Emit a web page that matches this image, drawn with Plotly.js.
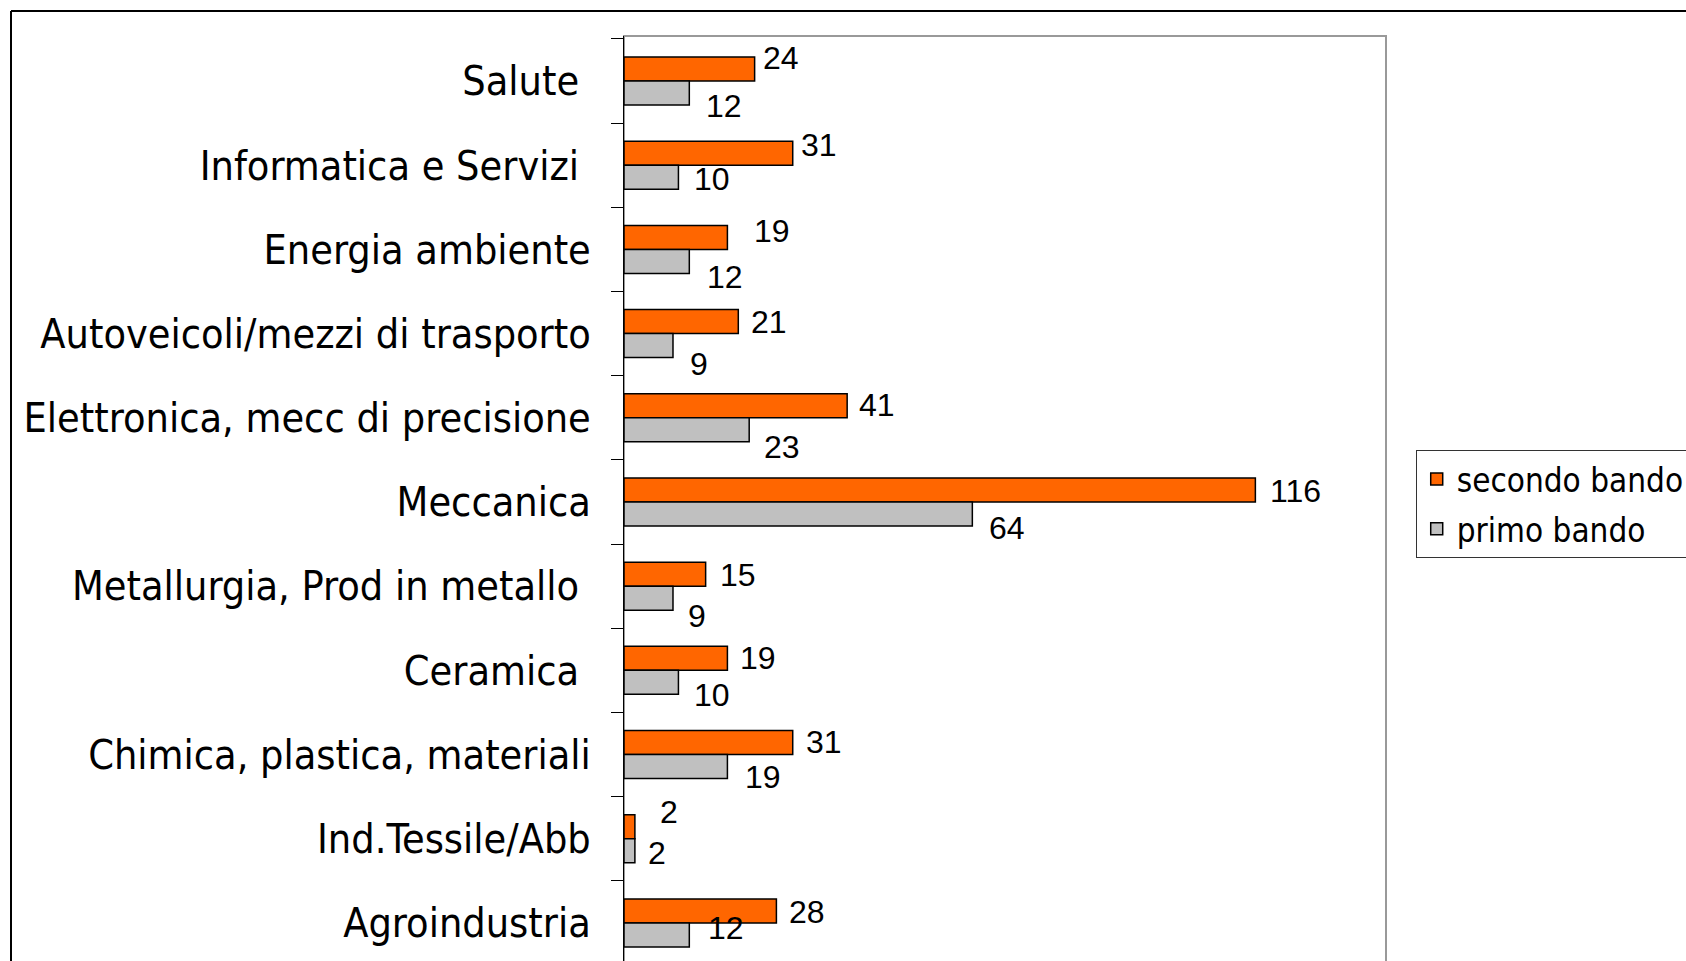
<!DOCTYPE html>
<html>
<head>
<meta charset="utf-8">
<script src="https://cdn.plot.ly/plotly-3.0.1.min.js"></script>
<style>
html,body{margin:0;padding:0;background:#fff;overflow:hidden;}
#chart{width:1686px;height:970px;}
</style>
</head>
<body>
<div id="chart"></div>
<script>
// ---- data ----
var categories = [
  "Salute\u00a0",
  "Informatica e Servizi\u00a0",
  "Energia ambiente",
  "Autoveicoli/mezzi di trasporto",
  "Elettronica, mecc di precisione",
  "Meccanica",
  "Metallurgia, Prod in metallo\u00a0",
  "Ceramica\u00a0",
  "Chimica, plastica, materiali",
  "Ind.Tessile/Abb",
  "Agroindustria"
];
var secondoBando = [24, 31, 19, 21, 41, 116, 15, 19, 31, 2, 28];
var primoBando   = [12, 10, 12, 9, 23, 64, 9, 10, 19, 2, 12];
var seriesNames  = ["secondo bando", "primo bando"];

// ---- label placement (pixels, layout only) ----
var secondoLabelDx = [6, 6, 25, 11, 10, 13, 12, 11, 11, 23, 11];
var secondoLabelDy = [23, 20, 18, 12, 13, 11, 11, 12, 13, 27, 11];
var primoLabelDx   = [15, 14, 16, 15, 13, 15, 13, 14, 16, 11, 17];
var primoLabelDy   = [25, 14, 28, 30, 29, 26, 30, 25, 22, 14, 5];

var catFont = "DejaVu Sans Condensed, Noto Sans, DejaVu Sans, sans-serif";
var numFont = "Liberation Sans, Arial, sans-serif";

var traces = [
  {type:"bar", orientation:"h", name:seriesNames[0], legendgroup:"a", y:categories, x:secondoBando,
   marker:{color:"#FF6600", line:{color:"#000000", width:1.5}}, hoverinfo:"x"},
  {type:"bar", orientation:"h", name:seriesNames[1], legendgroup:"b", y:categories, x:primoBando,
   marker:{color:"#C0C0C0", line:{color:"#000000", width:1.5}}, hoverinfo:"x"}
];

var annotations = [];
categories.forEach(function(c, i){
  annotations.push({x:secondoBando[i], y:c, xref:"x", yref:"y", text:String(secondoBando[i]),
    showarrow:false, xanchor:"left", yanchor:"middle",
    xshift:secondoLabelDx[i], yshift:secondoLabelDy[i],
    font:{family:numFont, size:32, color:"#000"}});
  annotations.push({x:primoBando[i], y:c, xref:"x", yref:"y", text:String(primoBando[i]),
    showarrow:false, xanchor:"left", yanchor:"middle",
    xshift:primoLabelDx[i], yshift:-primoLabelDy[i],
    font:{family:numFont, size:32, color:"#000"}});
});

var layout = {
  width:1686, height:970,
  margin:{l:624, r:300, t:36, b:5, pad:0, autoexpand:false},
  paper_bgcolor:"#ffffff", plot_bgcolor:"#ffffff",
  barmode:"group", bargap:0.43, bargroupgap:0,
  showlegend:true,
  legend:{x:1.039, y:0.5544, xanchor:"left", yanchor:"top",
    bordercolor:"#333333", borderwidth:1, bgcolor:"#ffffff",
    font:{family:catFont, size:33, color:"#000"}, traceorder:"grouped",
    tracegroupgap:4, itemwidth:30},
  xaxis:{range:[0,140], showgrid:false, zeroline:false, showticklabels:false,
    ticks:"", showline:false, fixedrange:true},
  yaxis:{type:"category", autorange:"reversed", showgrid:false, zeroline:false,
    showline:true, linecolor:"#000000", linewidth:1,
    ticks:"outside", tickson:"boundaries", ticklen:12, tickcolor:"#000000", tickwidth:1,
    ticklabelstandoff:24,
    tickfont:{family:catFont, size:41, color:"#000"}},
  shapes:[
    {type:"rect", xref:"paper", yref:"paper", x0:0, x1:1, y0:-0.01, y1:1,
     line:{color:"#999999", width:2}, fillcolor:"rgba(0,0,0,0)", layer:"below"},
    {type:"line", xref:"paper", yref:"paper", xsizemode:"pixel", ysizemode:"pixel",
     xanchor:0, yanchor:1, x0:-613, x1:1200, y0:25, y1:25,
     line:{color:"#000000", width:2}},
    {type:"line", xref:"paper", yref:"paper", xsizemode:"pixel", ysizemode:"pixel",
     xanchor:0, yanchor:1, x0:-613, x1:-613, y0:25, y1:-1200,
     line:{color:"#000000", width:2}}
  ],
  annotations:annotations
};

Plotly.newPlot("chart", traces, layout, {displayModeBar:false, staticPlot:true});
</script>
</body>
</html>
